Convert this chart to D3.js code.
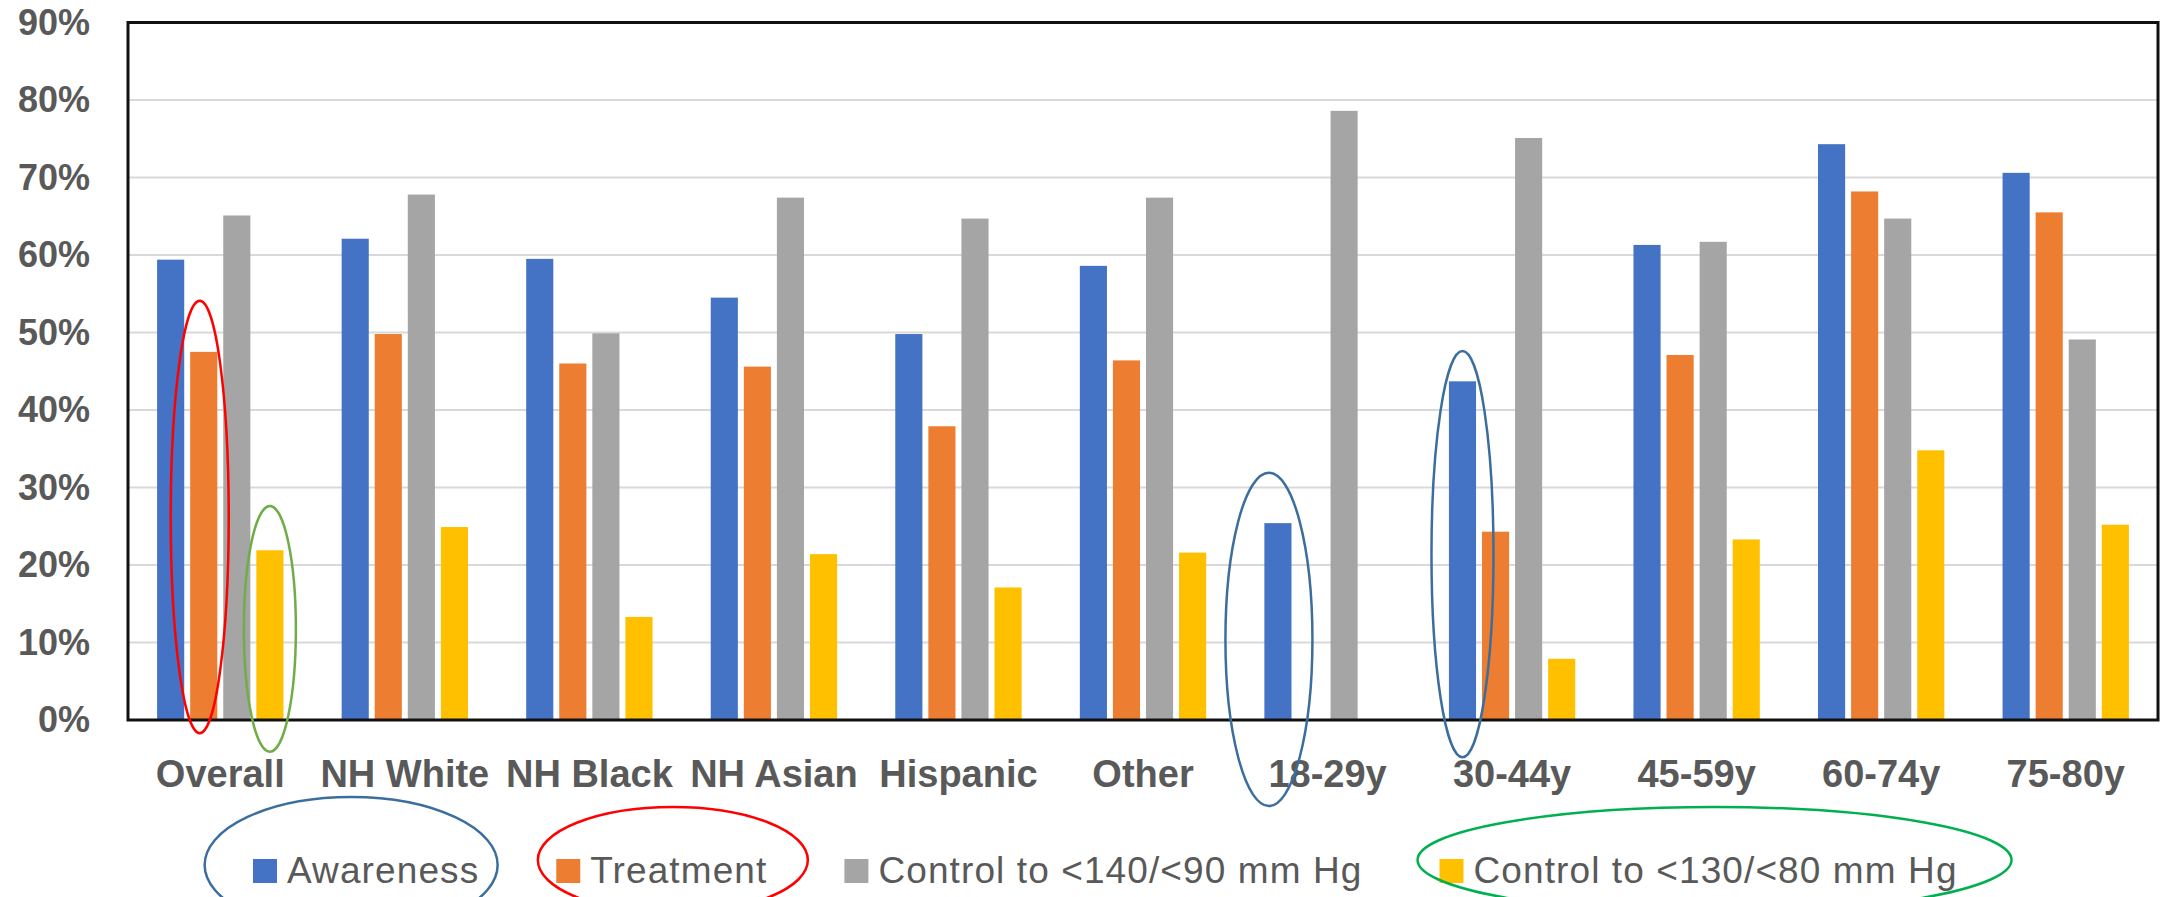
<!DOCTYPE html>
<html>
<head>
<meta charset="utf-8">
<script src="https://cdn.jsdelivr.net/npm/d3@7"></script>
<style>
  html, body { margin: 0; padding: 0; background: #fff; }
  svg { display: block; }
  text { font-family: "Liberation Sans", Arial, sans-serif; }
</style>
</head>
<body>
<svg id="chart" width="2161" height="897"></svg>
<script>
// ---- data ----
const categories = ["Overall", "NH White", "NH Black", "NH Asian", "Hispanic", "Other",
                    "18-29y", "30-44y", "45-59y", "60-74y", "75-80y"];
const seriesNames = ["Awareness", "Treatment", "Control to <140/<90 mm Hg", "Control to <130/<80 mm Hg"];
const awareness  = [59.4, 62.1, 59.5, 54.5, 49.8, 58.6, 25.4, 43.7, 61.3, 74.3, 70.6];
const treatment  = [47.5, 49.8, 46.0, 45.6, 37.9, 46.4, null, 24.3, 47.1, 68.2, 65.5];
const control140 = [65.1, 67.8, 49.9, 67.4, 64.7, 67.4, 78.6, 75.1, 61.7, 64.7, 49.1];
const control130 = [21.9, 24.9, 13.3, 21.4, 17.1, 21.6, null, 7.9, 23.3, 34.8, 25.2];
const yTicks = [0, 10, 20, 30, 40, 50, 60, 70, 80, 90];
const seriesColors = ["#4472c4", "#ed7d31", "#a5a5a5", "#ffc000"];

// annotation ellipses around bars (category, series, value span in %)
const barNotes = [
  { cat: "Overall", series: 1, top: 54.1, bottom: -1.7, rx: 29, dx: -4,  color: "#ff0000" },
  { cat: "Overall", series: 3, top: 27.6, bottom: -4.1, rx: 26, dx: 0,   color: "#70ad47" },
  { cat: "18-29y",  series: 0, top: 31.9, bottom: -11.1, rx: 43.5, dx: -9, color: "#3b6e9e" },
  { cat: "30-44y",  series: 0, top: 47.6, bottom: -4.8, rx: 31, dx: 0,   color: "#3b6e9e" }
];
// annotation ellipses around legend entries
const legendNotes = [
  { series: 0, dx: -15, rx: 146.5, cy: 865, ry: 68, color: "#3b6e9e" },
  { series: 1, dx: 11,  rx: 135,   cy: 860, ry: 53, color: "#ff0000" },
  { series: 3, dx: 16,  rx: 297,   cy: 860, ry: 53, color: "#00b050" }
];

const seriesData = [awareness, treatment, control140, control130];

// ---- layout ----
const plot = { left: 128, right: 2158, top: 22.5, bottom: 720 };
const svg = d3.select("#chart");

const x0 = d3.scaleBand().domain(categories).range([plot.left, plot.right]).paddingInner(0).paddingOuter(0);
const x1 = d3.scaleBand().domain(d3.range(seriesNames.length))
  .range([0, x0.bandwidth()]).paddingInner(0.18).paddingOuter(0.88);
const y = d3.scaleLinear().domain([0, 90]).range([plot.bottom, plot.top]);

// gridlines
svg.append("g").selectAll("line").data(yTicks.filter(t => t > 0 && t < 90)).join("line")
  .attr("x1", plot.left).attr("x2", plot.right)
  .attr("y1", d => y(d)).attr("y2", d => y(d))
  .attr("stroke", "#d9d9d9").attr("stroke-width", 2);

// y-axis labels
const yAxis = d3.axisLeft(y).tickValues(yTicks).tickFormat(d => d + "%").tickSize(0).tickPadding(38);
const yg = svg.append("g").attr("transform", `translate(${plot.left},0)`).call(yAxis);
yg.select(".domain").remove();
yg.selectAll("text").attr("font-size", 36).attr("font-weight", "bold")
  .attr("fill", "#595959").attr("font-family", "'Liberation Sans', Arial, sans-serif");

// bars
const groups = svg.append("g").selectAll("g").data(categories).join("g")
  .attr("transform", d => `translate(${x0(d)},0)`);
groups.selectAll("rect")
  .data((c, i) => seriesData.map((s, k) => ({ k, v: s[i] })).filter(d => d.v != null))
  .join("rect")
  .attr("x", d => x1(d.k))
  .attr("width", x1.bandwidth())
  .attr("y", d => y(d.v))
  .attr("height", d => y(0) - y(d.v))
  .attr("fill", d => seriesColors[d.k]);

// frame
svg.append("rect")
  .attr("x", plot.left).attr("y", plot.top)
  .attr("width", plot.right - plot.left).attr("height", plot.bottom - plot.top)
  .attr("fill", "none").attr("stroke", "#111").attr("stroke-width", 3);

// x-axis labels
const xAxis = d3.axisBottom(x0).tickSize(0).tickPadding(40);
const xg = svg.append("g").attr("transform", `translate(0,${plot.bottom})`).call(xAxis);
xg.select(".domain").remove();
xg.selectAll("text").attr("font-size", 38).attr("font-weight", "bold")
  .attr("fill", "#595959").attr("font-family", "'Liberation Sans', Arial, sans-serif");

// legend
const legend = svg.append("g");
let lx = 253;
const legendItems = [];
seriesNames.forEach((name, k) => {
  const g = legend.append("g");
  g.append("rect").attr("x", lx).attr("y", 859).attr("width", 24).attr("height", 24)
    .attr("fill", seriesColors[k]);
  const t = g.append("text").attr("x", lx + 34).attr("y", 883)
    .attr("font-size", 37).attr("letter-spacing", "1.1px").attr("fill", "#595959").text(name);
  const w = t.node().getComputedTextLength();
  legendItems.push({ x0: lx, x1: lx + 34 + w });
  lx = lx + 34 + w + 77;
});

// annotation ellipses
const ann = svg.append("g").attr("fill", "none");
barNotes.forEach(n => {
  const cx = x0(n.cat) + x1(n.series) + x1.bandwidth() / 2 + n.dx;
  const yt = y(n.top), yb = y(n.bottom);
  ann.append("ellipse")
    .attr("cx", cx).attr("cy", (yt + yb) / 2)
    .attr("rx", n.rx).attr("ry", (yb - yt) / 2)
    .attr("stroke", n.color).attr("stroke-width", 2.5);
});
legendNotes.forEach(n => {
  const it = legendItems[n.series];
  ann.append("ellipse")
    .attr("cx", (it.x0 + it.x1) / 2 + n.dx).attr("cy", n.cy)
    .attr("rx", n.rx).attr("ry", n.ry)
    .attr("stroke", n.color).attr("stroke-width", 2.5);
});
</script>
</body>
</html>
